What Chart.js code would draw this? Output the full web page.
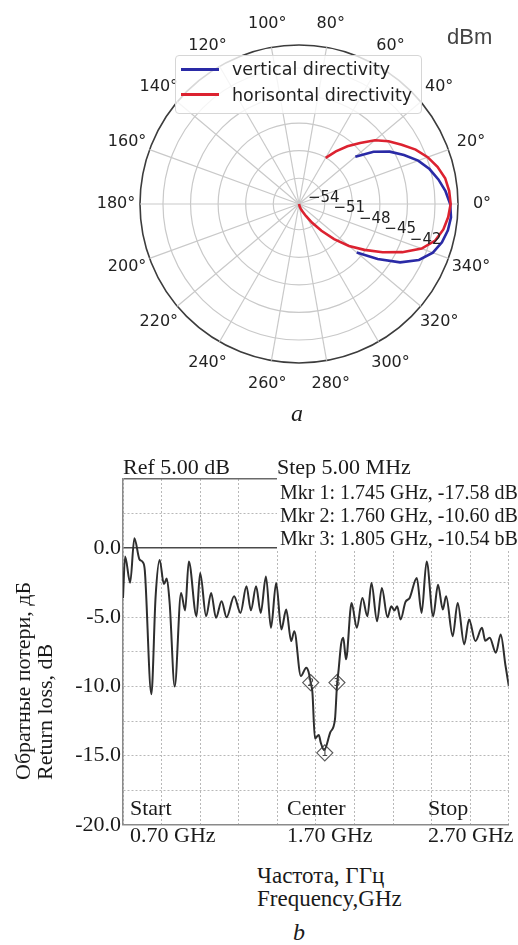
<!DOCTYPE html>
<html lang="en">
<head>
<meta charset="UTF-8" />
<meta name="viewport" content="width=device-width, initial-scale=1" />
<title>Directivity and return loss</title>
<script src="https://cdn.jsdelivr.net/npm/chart.js"></script>
<style>
    body { margin: 0; background: #fff; }
    .page { position: relative; width: 518px; height: 945px; overflow: hidden; background: #fff; color: #1a1a1a; }
    canvas { position: absolute; left: 0; }
    .t { position: absolute; white-space: nowrap; line-height: 1; }
    .serif { font-family: "Liberation Serif", "Times New Roman", serif; font-size: 22px; }
    .mkr { font-family: "Liberation Serif", serif; font-size: 20px; }
    .cap { font-family: "Liberation Serif", serif; font-style: italic; font-size: 24px; }
    .legend { position: absolute; left: 175px; top: 55px; width: 245px; height: 57px; border: 1px solid #d6d6d6; border-radius: 4px; background: rgba(255,255,255,0.8); font-family: "DejaVu Sans", sans-serif; font-size: 17.5px; color: #222; }
    .legend .sw { position: absolute; left: 5px; width: 38px; height: 3px; }
    .legend .lb { position: absolute; left: 56px; line-height: 1; white-space: nowrap; }
    .mkrbox { position: absolute; left: 277px; top: 478px; width: 241px; height: 71px; background: #fff; }
    .ytitle { position: absolute; left: 12px; top: 780px; transform-origin: left top; transform: rotate(-90deg); font-family: "Liberation Serif", serif; font-size: 22px; line-height: 22px; white-space: nowrap; }
</style>
</head>
<body>
<div class="page">
    <canvas id="polarChart" width="518" height="430" style="top:0"></canvas>
    <canvas id="lossChart" width="518" height="400" style="top:440px"></canvas>

    <div class="t" style="left:447px; top:26px; font-family:'Liberation Sans',sans-serif; font-size:22px; color:#444;">dBm</div>
    <div class="legend">
        <div class="sw" style="top:12px; background:#2a2aa6;"></div>
        <div class="lb" style="top:5px;">vertical directivity</div>
        <div class="sw" style="top:37px; background:#dc2230;"></div>
        <div class="lb" style="top:31px;">horisontal directivity</div>
    </div>
    <div class="t cap" style="left:291px; top:401px;">a</div>

    <div class="t serif" style="left:123px; top:456px;">Ref 5.00 dB</div>
    <div class="t serif" style="left:277px; top:456px;">Step 5.00 MHz</div>
    <div class="mkrbox"></div>
    <div class="t mkr" style="left:280px; top:482px;">Mkr 1: 1.745 GHz, -17.58 dB</div>
    <div class="t mkr" style="left:280px; top:505px;">Mkr 2: 1.760 GHz, -10.60 dB</div>
    <div class="t mkr" style="left:280px; top:528px;">Mkr 3: 1.805 GHz, -10.54 bB</div>

    <div class="t serif" style="left:130px; top:797px;">Start</div>
    <div class="t serif" style="left:287px; top:797px;">Center</div>
    <div class="t serif" style="left:428px; top:797px;">Stop</div>
    <div class="t serif" style="left:130px; top:824px;">0.70 GHz</div>
    <div class="t serif" style="left:287px; top:824px;">1.70 GHz</div>
    <div class="t serif" style="left:428px; top:824px;">2.70 GHz</div>

    <div class="ytitle">Обратные потери, дБ<br>Return loss, dB</div>
    <div class="t serif" style="left:257px; top:864px; font-size:23px;">Частота, ГГц</div>
    <div class="t serif" style="left:257px; top:887px; font-size:23px;">Frequency,GHz</div>
    <div class="t cap" style="left:293px; top:920px;">b</div>
</div>

<script>
    // polar plot (dBm), angles in degrees, 0 at the right, counter-clockwise
    const angleTicks = [0, 20, 40, 60, 80, 100, 120, 140, 160, 180, 200, 220, 240, 260, 280, 300, 320, 340];
    const rTicks = [-54, -51, -48, -45, -42];
    const rMin = -56.8;
    const rMax = -39.5;

    const vertAngles = [40, 35, 30, 25, 20, 15, 10, 5, 0, -5, -10, -15, -20, -25, -30, -35, -40];
    const vertLevels = [-48.8, -46.9, -45.4, -44.2, -43.0, -42.1, -41.4, -40.8, -40.35, -40.2, -40.35, -40.7, -41.3, -42.4, -44.1, -46.35, -48.6];

    const horAngles = [60, 55, 50, 45, 40, 35, 30, 25, 20, 15, 10, 5, 0, -5, -10, -15, -20, -25, -30, -35, -40, -45, -50, -55, -60, -65, -70, -75, -80];
    const horLevels = [-51.0, -49.8, -48.6, -47.4, -46.0, -44.9, -43.9, -42.8, -41.9, -41.2, -40.65, -40.4, -40.3, -40.5, -40.85, -41.45, -42.6, -44.4, -46.3, -48.1, -49.7, -51.4, -53.0, -54.3, -55.3, -55.9, -56.2, -56.5, -56.8];

    // return loss trace
    const freqGHz = [0.700, 0.711, 0.737, 0.759, 0.785, 0.802, 0.813, 0.847, 0.869, 0.890, 0.912, 0.927, 0.942, 0.968,
        1.001, 1.022, 1.041, 1.081, 1.100, 1.131, 1.157, 1.182, 1.211, 1.237, 1.276, 1.309, 1.340, 1.363, 1.390,
        1.414, 1.441, 1.467, 1.494, 1.521, 1.546, 1.572, 1.588, 1.622, 1.650, 1.661, 1.673, 1.682, 1.695, 1.715,
        1.725, 1.743, 1.775, 1.799, 1.809, 1.818, 1.831, 1.842, 1.856, 1.885, 1.912, 1.941, 1.967, 1.988, 2.017,
        2.042, 2.071, 2.091, 2.107, 2.121, 2.139, 2.164, 2.186, 2.223, 2.248, 2.274, 2.308, 2.333, 2.358, 2.375,
        2.409, 2.435, 2.469, 2.494, 2.527, 2.561, 2.578, 2.601, 2.633, 2.658, 2.683, 2.700];
    const returnLoss = [-3.6, -0.6, -2.5, 0.72, -0.8, -1.0, -1.6, -10.56, -3.5, -0.85, -2.6, -2.2, -4.0, -10.0,
        -3.24, -4.5, -0.96, -4.92, -1.8, -4.92, -3.24, -5.04, -3.84, -5.0, -3.48, -4.68, -2.76, -4.49, -2.76,
        -4.68, -2.04, -5.76, -2.52, -5.88, -4.44, -6.72, -6.0, -9.24, -8.64, -8.9, -9.72, -10.44, -13.76, -13.5,
        -14.05, -14.6, -13.3, -12.36, -10.0, -8.76, -6.9, -6.48, -8.04, -3.96, -5.76, -3.6, -4.92, -2.52, -5.28,
        -2.88, -5.0, -4.2, -4.5, -4.2, -5.16, -3.9, -3.6, -2.16, -4.68, -0.96, -4.92, -2.64, -4.44, -3.48,
        -6.36, -3.96, -6.96, -5.16, -6.72, -5.76, -6.7, -6.48, -7.56, -6.24, -8.5, -9.96];

    const markerFreq = [1.746, 1.673, 1.809];
    const markerLoss = [-14.8, -9.72, -9.72];
    const markerNames = ["1", "2", "3"];
    const yTicks = [0, -5, -10, -15, -20];

    // radar categories: index i sits at angle -5*i (clockwise from the right)
    const thetaLabels = Array.from({ length: 72 }, (_, i) => (360 - 5 * i) % 360);

    function onGrid(angles, levels) {
        const arr = new Array(thetaLabels.length).fill(null);
        angles.forEach((a, k) => {
            arr[((360 - a) % 360) / 5] = levels[k];
        });
        return arr;
    }

    const polarText = {
        id: "polarText",
        afterDraw(chart) {
            const s = chart.scales.r;
            const ctx = chart.ctx;
            ctx.save();
            ctx.fillStyle = "#222";
            ctx.textAlign = "center";
            ctx.textBaseline = "middle";
            ctx.font = '16px "DejaVu Sans"';
            angleTicks.forEach((a) => {
                const p = s.getPointPosition(((360 - a) % 360) / 5, s.drawingArea + 24);
                ctx.fillText(a + "°", p.x, p.y);
            });
            ctx.font = '15px "DejaVu Sans"';
            const ang = 22.5 * Math.PI / 180;
            rTicks.forEach((v) => {
                const d = s.getDistanceFromCenterForValue(v);
                ctx.fillText("\u2212" + Math.abs(v), s.xCenter + d * Math.cos(ang) + 1, s.yCenter + d * Math.sin(ang) - 16);
            });
            ctx.restore();
        }
    };

    new Chart(document.getElementById("polarChart"), {
        type: "radar",
        data: {
            labels: thetaLabels,
            datasets: [
                {
                    label: "horisontal directivity",
                    data: onGrid(horAngles, horLevels),
                    borderColor: "#dc2230",
                    borderWidth: 2.6,
                    pointRadius: 0,
                    fill: false,
                    spanGaps: false,
                    order: 0
                },
                {
                    label: "vertical directivity",
                    data: onGrid(vertAngles, vertLevels),
                    borderColor: "#2a2aa6",
                    borderWidth: 2.6,
                    pointRadius: 0,
                    fill: false,
                    spanGaps: false,
                    order: 1
                }
            ]
        },
        options: {
            responsive: false,
            animation: false,
            layout: { padding: { left: 140, right: 60, top: 45, bottom: 67 } },
            plugins: { legend: { display: false }, tooltip: { enabled: false } },
            scales: {
                r: {
                    min: rMin,
                    max: rMax,
                    startAngle: 90,
                    ticks: { display: false },
                    afterBuildTicks: (s) => {
                        s.ticks = [rMin, ...rTicks, rMax].map((v) => ({ value: v }));
                    },
                    pointLabels: { display: false },
                    angleLines: {
                        color: "#c9c9c9",
                        lineWidth: (ctx) => (ctx.index % 4 === 0 ? 1.2 : 0)
                    },
                    grid: {
                        circular: true,
                        color: (ctx) => (ctx.tick && ctx.tick.value === rMax ? "#3c3c3c" : "#c9c9c9"),
                        lineWidth: (ctx) => {
                            if (!ctx.tick || ctx.tick.value === rMin) return 0;
                            return ctx.tick.value === rMax ? 1.6 : 1.2;
                        }
                    }
                }
            }
        },
        plugins: [polarText]
    });

    const markerLabels = {
        id: "markerLabels",
        afterDatasetsDraw(chart) {
            const meta = chart.getDatasetMeta(1);
            const ctx = chart.ctx;
            ctx.save();
            ctx.font = '11px "DejaVu Sans"';
            ctx.fillStyle = "#444";
            ctx.textAlign = "center";
            ctx.textBaseline = "middle";
            meta.data.forEach((pt, i) => ctx.fillText(markerNames[i], pt.x, pt.y + 0.5));
            ctx.restore();
        }
    };

    const isSolid = (v) => v === 0 || v === 5;

    new Chart(document.getElementById("lossChart"), {
        type: "line",
        data: {
            datasets: [
                {
                    data: freqGHz.map((f, i) => ({ x: f, y: returnLoss[i] })),
                    borderColor: "#2e2e2e",
                    borderWidth: 2,
                    pointRadius: 0,
                    cubicInterpolationMode: "monotone",
                    fill: false
                },
                {
                    type: "scatter",
                    data: markerFreq.map((f, i) => ({ x: f, y: markerLoss[i] })),
                    pointStyle: "rectRot",
                    pointRadius: 8,
                    backgroundColor: "#fff",
                    borderColor: "#5a5a5a",
                    borderWidth: 1.2,
                    showLine: false
                }
            ]
        },
        options: {
            responsive: false,
            animation: false,
            layout: { padding: { top: 39, right: 1, bottom: 14, left: 0 } },
            plugins: { legend: { display: false }, tooltip: { enabled: false } },
            scales: {
                x: {
                    type: "linear",
                    min: 0.7,
                    max: 2.7,
                    ticks: { display: false, stepSize: 0.2 },
                    grid: { color: "#b8b8b8", lineWidth: 1, drawTicks: false },
                    border: { color: "#8a8a8a", width: 1.5, dash: (ctx) => (ctx.tick ? [2, 2] : []) },
                    afterFit: (s) => { s.height = 0; }
                },
                y: {
                    min: -20,
                    max: 5,
                    ticks: {
                        stepSize: 2.5,
                        padding: 2,
                        color: "#1a1a1a",
                        font: { family: "Liberation Serif", size: 22 },
                        callback: (v) => (yTicks.includes(v) ? v.toFixed(1) : "")
                    },
                    grid: {
                        drawTicks: false,
                        color: (ctx) => {
                            if (!ctx.tick) return "#b8b8b8";
                            if (ctx.tick.value === 0) return "#4a4a4a";
                            if (ctx.tick.value === 5) return "#6a6a6a";
                            return "#b8b8b8";
                        },
                        lineWidth: (ctx) => (ctx.tick && isSolid(ctx.tick.value) ? 1.5 : 1)
                    },
                    border: {
                        color: "#8a8a8a",
                        width: 1.5,
                        dash: (ctx) => (ctx.tick && !isSolid(ctx.tick.value) ? [2, 2] : [])
                    },
                    afterFit: (s) => { s.width = 123; }
                }
            }
        },
        plugins: [markerLabels]
    });
</script>
</body>
</html>
